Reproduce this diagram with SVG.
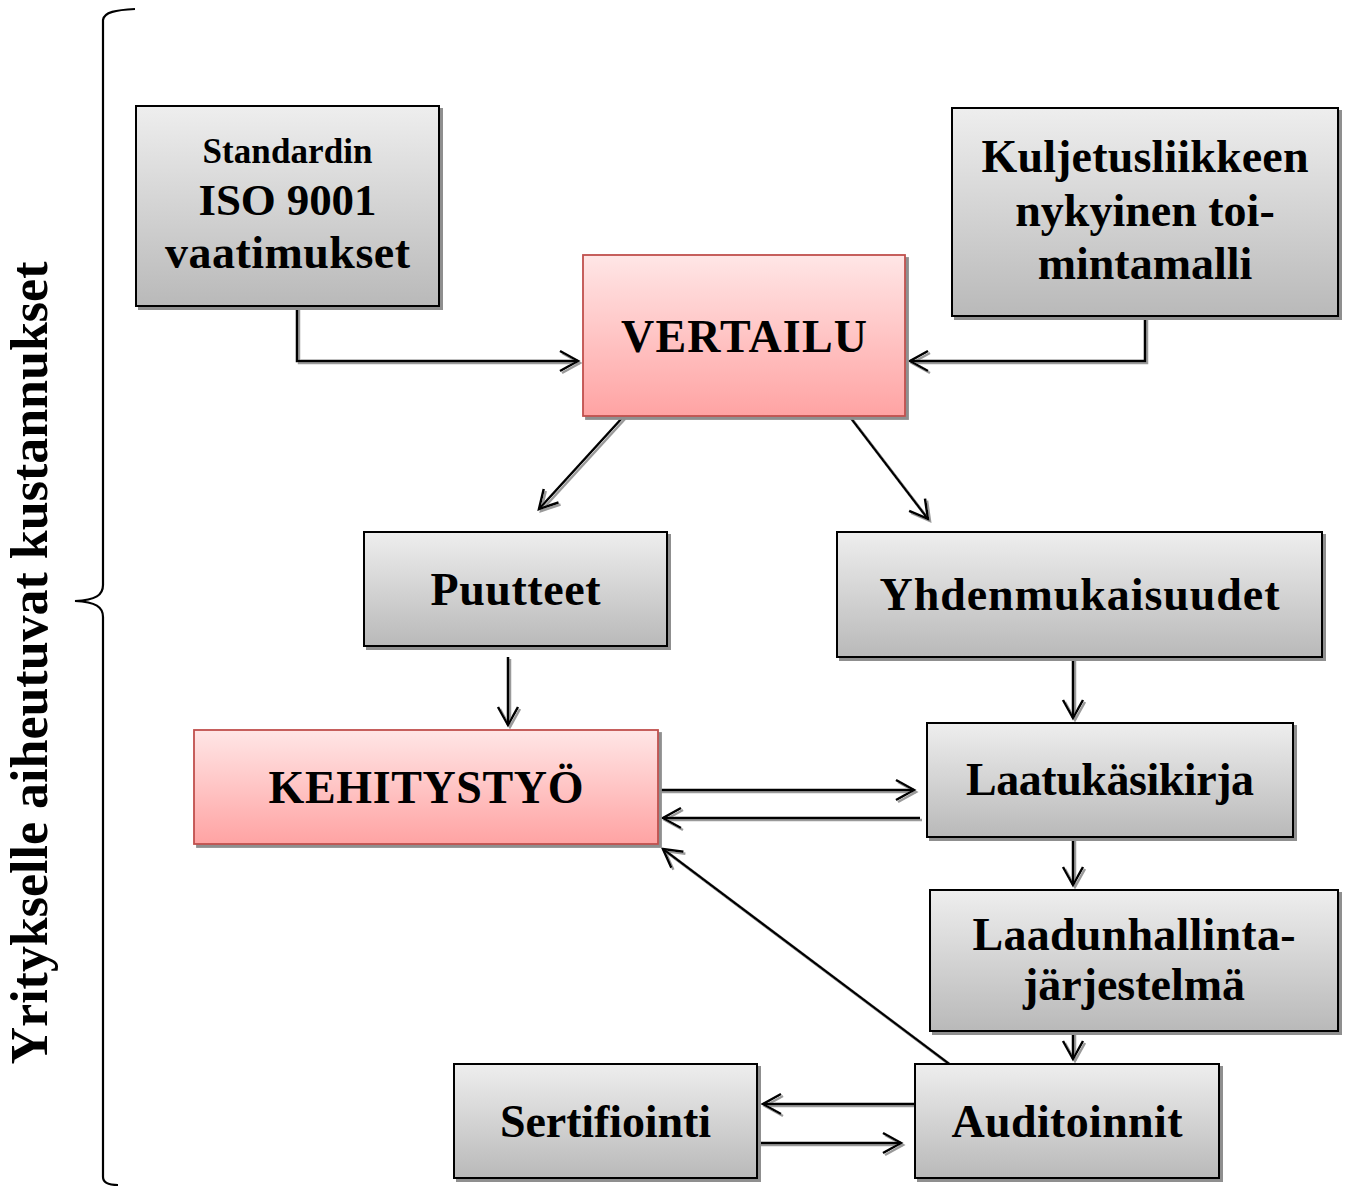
<svg xmlns="http://www.w3.org/2000/svg" width="1346" height="1187" viewBox="0 0 1346 1187">
  <style>
    .t { font-family: "Liberation Serif", "Times New Roman", serif; font-weight: bold; fill: #000; text-anchor: middle; }
    .box { fill: url(#gray); stroke: #000; stroke-width: 2; filter: url(#shadow); }
    .hot { fill: url(#red); stroke: #c0504d; stroke-width: 1.8; filter: url(#shadow); }
    .link { fill: none; stroke: #000; stroke-width: 2.5; marker-end: url(#arrow); }
  </style>
  <defs>
    <linearGradient id="gray" x1="0" y1="0" x2="0" y2="1">
      <stop offset="0" stop-color="#eeeeee"/>
      <stop offset="1" stop-color="#b9b9b9"/>
    </linearGradient>
    <linearGradient id="red" x1="0" y1="0" x2="0" y2="1">
      <stop offset="0" stop-color="#ffe6e6"/>
      <stop offset="1" stop-color="#ffa3a3"/>
    </linearGradient>
    <filter id="shadow" filterUnits="userSpaceOnUse" x="0" y="0" width="1346" height="1187">
      <feOffset in="SourceAlpha" dx="3" dy="3" result="off"/>
      <feFlood flood-color="#8f8f8f"/>
      <feComposite in2="off" operator="in" result="sh"/>
      <feMerge><feMergeNode in="sh"/><feMergeNode in="SourceGraphic"/></feMerge>
    </filter>
    <filter id="lineShadow" filterUnits="userSpaceOnUse" x="0" y="0" width="1346" height="1187">
      <feOffset in="SourceAlpha" dx="2" dy="2" result="off"/>
      <feFlood flood-color="#9a9a9a"/>
      <feComposite in2="off" operator="in" result="sh"/>
      <feMerge><feMergeNode in="sh"/><feMergeNode in="SourceGraphic"/></feMerge>
    </filter>
    <marker id="arrow" markerUnits="userSpaceOnUse" viewBox="-22 -13 25 26" markerWidth="25" markerHeight="26" refX="0" refY="0" orient="auto">
      <path d="M-18,-10 L0,0 L-18,10" fill="none" stroke="#000" stroke-width="2.5"/>
    </marker>
  </defs>

  <!-- cost brace on the left -->
  <g id="brace">
    <path d="M135,9 C116,10 104,12 103,20 L103,585 C103,595 96,600 75,601 C96,602 103,607 103,617 L103,1177 C103,1183 108,1185 118,1185" fill="none" stroke="#000" stroke-width="2.2"/>
    <text class="t" transform="translate(47,663) rotate(-90)" font-size="52" textLength="803">Yritykselle aiheutuvat kustannukset</text>
  </g>

  <!-- connectors -->
  <g id="connectors" filter="url(#lineShadow)">
    <polyline class="link" points="297,306 297,361 578,361"/>
    <polyline class="link" points="1145,316 1145,361 910,361"/>
    <line class="link" x1="623" y1="417" x2="539" y2="509"/>
    <line class="link" x1="850" y1="417" x2="928" y2="519"/>
    <line class="link" x1="508" y1="657" x2="508" y2="725"/>
    <line class="link" x1="1073" y1="652" x2="1073" y2="718"/>
    <line class="link" x1="658" y1="790" x2="914" y2="790"/>
    <line class="link" x1="920" y1="818" x2="663" y2="818"/>
    <line class="link" x1="1073" y1="837" x2="1073" y2="885"/>
    <line class="link" x1="1073" y1="1031" x2="1073" y2="1059"/>
    <line class="link" x1="952" y1="1066" x2="663" y2="849"/>
    <line class="link" x1="915" y1="1104" x2="763" y2="1104"/>
    <line class="link" x1="757" y1="1143" x2="901" y2="1143"/>
  </g>

  <g id="standardi">
    <rect class="box" x="136" y="106" width="303" height="200"/>
    <text class="t" x="287.5" y="163" font-size="35" textLength="170">Standardin</text>
    <text class="t" x="287.5" y="215" font-size="45" textLength="178">ISO 9001</text>
    <text class="t" x="287.5" y="268" font-size="46" textLength="245">vaatimukset</text>
  </g>

  <g id="nykytila">
    <rect class="box" x="952" y="108" width="386" height="208"/>
    <text class="t" x="1145" y="172" font-size="46" textLength="327">Kuljetusliikkeen</text>
    <text class="t" x="1145" y="226" font-size="46">nykyinen toi-</text>
    <text class="t" x="1145" y="279" font-size="46">mintamalli</text>
  </g>

  <g id="vertailu">
    <rect class="hot" x="583" y="255" width="322" height="161"/>
    <text class="t" x="744" y="352" font-size="46" textLength="246">VERTAILU</text>
  </g>

  <g id="puutteet">
    <rect class="box" x="364" y="532" width="303" height="114"/>
    <text class="t" x="515.5" y="605" font-size="46" textLength="170">Puutteet</text>
  </g>

  <g id="yhdenmukaisuudet">
    <rect class="box" x="837" y="532" width="485" height="125"/>
    <text class="t" x="1079.5" y="610" font-size="46" textLength="400">Yhdenmukaisuudet</text>
  </g>

  <g id="kehitystyo">
    <rect class="hot" x="194" y="730" width="464" height="114"/>
    <text class="t" x="426" y="803" font-size="46" textLength="315">KEHITYSTYÖ</text>
  </g>

  <g id="laatukasikirja">
    <rect class="box" x="927" y="723" width="366" height="114"/>
    <text class="t" x="1110" y="795" font-size="46" textLength="288">Laatukäsikirja</text>
  </g>

  <g id="laadunhallinta">
    <rect class="box" x="930" y="890" width="408" height="141"/>
    <text class="t" x="1134" y="950" font-size="46" textLength="323">Laadunhallinta-</text>
    <text class="t" x="1134" y="1000" font-size="46" textLength="222">järjestelmä</text>
  </g>

  <g id="sertifiointi">
    <rect class="box" x="454" y="1064" width="303" height="114"/>
    <text class="t" x="605.5" y="1137" font-size="46" textLength="211">Sertifiointi</text>
  </g>

  <g id="auditoinnit">
    <rect class="box" x="915" y="1064" width="304" height="114"/>
    <text class="t" x="1067" y="1137" font-size="46" textLength="231">Auditoinnit</text>
  </g>
</svg>
